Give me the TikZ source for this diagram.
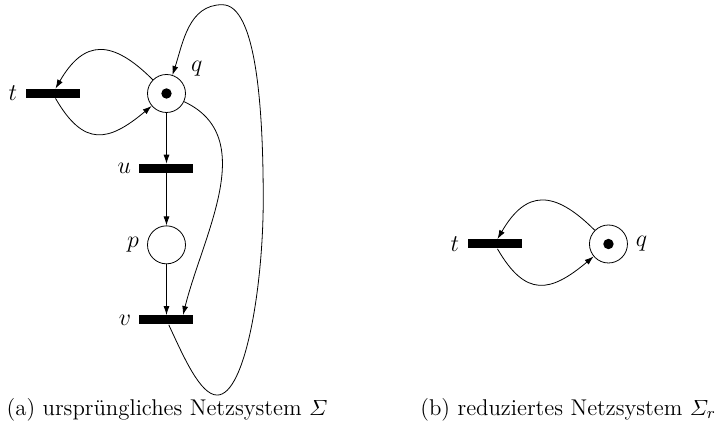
\documentclass[tikz,border=0pt]{standalone}
\usepackage{amsmath}
\usetikzlibrary{arrows.meta}
\begin{document}
\begin{tikzpicture}[
  pl/.style={circle, draw=black, minimum size=19pt, inner sep=0pt},
  tr/.style={rectangle, fill=black, minimum width=27pt, minimum height=4.5pt, inner sep=0pt},
  flow/.style={-{Latex[length=4.5pt,width=3pt]}},
  lab/.style={label distance=0.5pt, font=\large},
  captext/.style={font=\fontsize{11.4}{14}\selectfont}]
\useasboundingbox (-2.926,1.643) rectangle (9.727,-6.054);
\begin{scope}
\node[pl, label={[lab]30:$q$}] (q) at (0,0) {};
\fill (q) circle (2.6pt);
\node[tr, label={[lab]left:$t$}] (t) at (-2,0) {};
\node[tr, label={[lab]left:$u$}] (u) at (0,-1.32) {};
\node[pl, label={[lab]left:$p$}] (p) at (0,-2.66) {};
\node[tr, label={[lab]left:$v$}] (v) at (0,-3.98) {};
\coordinate (lb) at (0.89,-5.30);
\coordinate (lr) at (1.70,-1.87);
\coordinate (lt) at (0.98,1.56);
\draw[flow] (q) to[out=135, in=60, looseness=1.5] (t);
\draw[flow] (t) to[out=-60, in=220, looseness=1.5] (q);
\draw[flow] (q) -- (u);
\draw[flow] (u) -- (p);
\draw[flow] (p) -- (v);
\draw[flow] (q) to[out=-25, in=76] ([xshift=0.29cm]v.north);
\draw[flow] (v) to[out=-65, in=180, out distance=0.6cm, in distance=0.3cm] (lb)
  to[out=0, in=-90, out distance=0.5cm, in distance=1.5cm] (lr)
  to[out=90, in=0, out distance=1.6cm, in distance=0.6cm] (lt)
  to[out=180, in=72] (q);
\node[captext] (capa) at (0.01,-5.56) {(a) ursprüngliches Netzsystem $\varSigma$};
\end{scope}
\begin{scope}[xshift=7.767cm, yshift=-2.645cm]
\node[pl, label={[lab]right:$q$}] (q2) at (0,0) {};
\fill (q2) circle (2.6pt);
\node[tr, label={[lab]left:$t$}] (t2) at (-2,0) {};
\draw[flow] (q2) to[out=135, in=60, looseness=1.5] (t2);
\draw[flow] (t2) to[out=-60, in=220, looseness=1.5] (q2);
\end{scope}
\node[captext] (capb) at (7.06,-5.56) {(b) reduziertes Netzsystem $\varSigma_r$};
\end{tikzpicture}
\end{document}
